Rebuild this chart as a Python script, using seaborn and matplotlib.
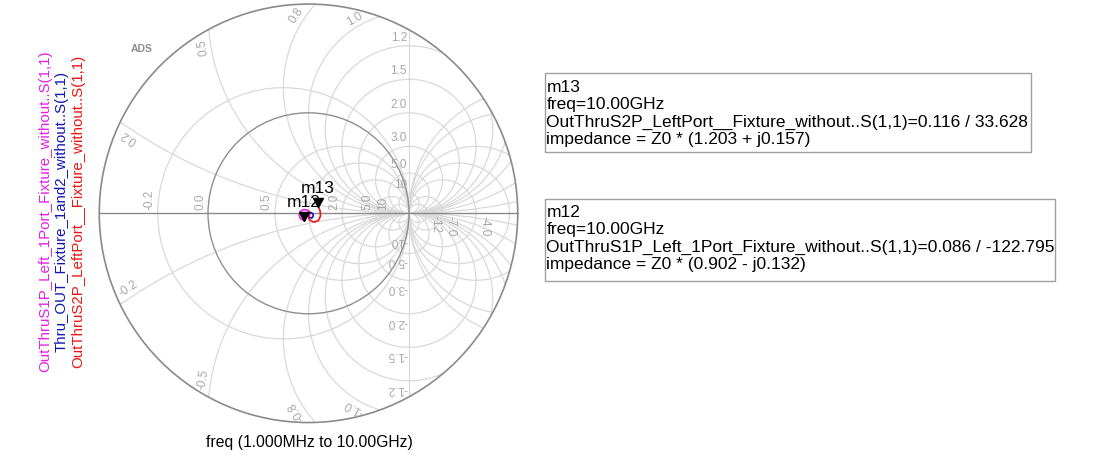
import numpy as np
import pandas as pd
import matplotlib
matplotlib.use("Agg")
import matplotlib.pyplot as plt
import seaborn as sns
from matplotlib.patches import Circle, Rectangle
from matplotlib.path import Path

# ---- grid definition (ADS compressed smith chart) ----
r_left = [-0.2, 0.0, 0.5, 1.0, 2.0, 5.0, 10.0]
r_left_labels = ["-0.2", "0.0", "0.5", "", "2.0", "5.0", "10"]
r_right = [-1.8, -2.0, -2.5, -3.0, -4.0, -7.0, -12.0]
r_right_labels = ["", "", "", "", "-4.0", "-7.0", "-12"]
x_vals = [0.2, 0.5, 0.8, 1.0, 1.2, 1.5, 2.0, 3.0, 5.0, 10.0]
x_labels = ["0.2", "0.5", "0.8", "1.0", "1.2", "1.5", "2.0", "3.0", "5.0", "10"]
R_OUT = 2.082

magenta_re = [0.010, 0.013, -0.010, -0.045, -0.080, -0.093, -0.080, -0.047]
magenta_im = [-0.032, 0.008, 0.031, 0.038, 0.021, -0.017, -0.055, -0.072]
blue_re = [0.001, 0.020, 0.043, 0.048, 0.033, 0.007, -0.007, 0.003]
blue_im = [0.000, 0.009, -0.003, -0.025, -0.047, -0.045, -0.023, -0.003]
red_re = [0.005, -0.005, 0.015, 0.055, 0.100, 0.119, 0.116, 0.097]
red_im = [0.008, -0.027, -0.071, -0.088, -0.071, -0.027, 0.023, 0.064]
trace_names = ["OutThruS1P_Left_1Port_Fixture_without..S(1,1)",
               "Thru_OUT_Fixture_1and2_without..S(1,1)",
               "OutThruS2P_LeftPort__Fixture_without..S(1,1)"]
trace_colors = ["#e61ee6", "#1414b4", "#f01414"]

# markers
marker_names = ["m13", "m12"]
marker_mag = [0.116, 0.086]
marker_deg = [33.628, -122.795]
marker_text = [
    ["m13", "freq=10.00GHz",
     "OutThruS2P_LeftPort__Fixture_without..S(1,1)=0.116 / 33.628",
     "impedance = Z0 * (1.203 + j0.157)"],
    ["m12", "freq=10.00GHz",
     "OutThruS1P_Left_1Port_Fixture_without..S(1,1)=0.086 / -122.795",
     "impedance = Z0 * (0.902 - j0.132)"],
]

W, H = 1107, 462
sns.set_style("white")
plt.rcParams['font.family'] = ['Liberation Sans', 'DejaVu Sans']

fig = plt.figure(figsize=(W / 100, H / 100), dpi=100)
unit = 100.5
cx, cy = 308.5, 213.3
lim = 2.1
ax = fig.add_axes([(cx - lim * unit) / W, (H - cy - lim * unit) / H,
                   2 * lim * unit / W, 2 * lim * unit / H])
ax.set_xlim(-lim, lim)
ax.set_ylim(-lim, lim)
ax.axis('off')

clip = Circle((0, 0), R_OUT, transform=ax.transData)
grid_c = '#d9d9d9'
lab_c = '#a8a8a8'
lab_fs = 8.5


def px2pt(v):
    return v * 0.72


# resistance circles
for r in r_left + r_right:
    c = r / (1 + r)
    rho = 1 / abs(1 + r)
    col, lw = (grid_c, 0.9) if r != 0 else ('#8f8f8f', 1.0)
    p = Circle((c, 0), rho, fill=False, edgecolor=col, lw=lw, zorder=2 if r == 0 else 1)
    ax.add_patch(p)
    p.set_clip_path(clip)

# reactance circles
for xv in x_vals:
    for s in (1, -1):
        p = Circle((1, s / xv), 1 / xv, fill=False, edgecolor=grid_c, lw=0.9, zorder=1)
        ax.add_patch(p)
        p.set_clip_path(clip)

yv = np.sqrt(R_OUT ** 2 - 1)
ax.plot([1, 1], [-yv, yv], color=grid_c, lw=0.9, zorder=1)
ax.plot([-R_OUT, R_OUT], [0, 0], color='#8a8a8a', lw=1.0, zorder=2)
ax.add_patch(Circle((0, 0), R_OUT, fill=False, edgecolor='#8a8a8a', lw=1.2, zorder=3))

# grid labels on real axis
for r, t in zip(r_left, r_left_labels):
    if t:
        ax.annotate(t, ((r - 1) / (r + 1), 0), xytext=(px2pt(-2), px2pt(3)),
                    textcoords='offset points', rotation=90, ha='right', va='bottom',
                    fontsize=lab_fs, color=lab_c)
for r, t in zip(r_right, r_right_labels):
    if t:
        ax.annotate(t, ((r - 1) / (r + 1), 0), xytext=(px2pt(2), px2pt(-3)),
                    textcoords='offset points', rotation=270, ha='left', va='top',
                    fontsize=lab_fs, color=lab_c)

# reactance labels
rho_lab = 1.93
for xv, t in zip(x_vals, x_labels):
    k = 1 / xv
    if 1 + (2 * k) ** 2 <= R_OUT ** 2:
        ax.annotate(t, (1, 2 * k), xytext=(px2pt(-2), px2pt(2)), textcoords='offset points',
                    ha='right', va='bottom', fontsize=lab_fs, color=lab_c)
        ax.annotate("-" + t, (1, -2 * k), xytext=(px2pt(-2), px2pt(-2)), textcoords='offset points',
                    rotation=180, ha='right', va='top', fontsize=lab_fs, color=lab_c)
    else:
        q = (rho_lab ** 2 + 1) / 2
        a, b, c = 1 + k ** 2, -2 * k * q, q ** 2 - rho_lab ** 2
        y = (-b + np.sqrt(b * b - 4 * a * c)) / (2 * a)
        x = q - k * y
        vx, vy = x - 1, y - k
        n = np.hypot(vx, vy)
        px_, py_ = x + 0.08 * vx / n, y + 0.08 * vy / n
        ang = np.degrees(np.arctan2(-vx, vy))
        ax.text(px_, py_, t, rotation=ang, ha='center', va='center',
                rotation_mode='anchor', fontsize=lab_fs, color=lab_c)
        ax.text(px_, -py_, "-" + t, rotation=180 - ang, ha='center', va='center',
                rotation_mode='anchor', fontsize=lab_fs, color=lab_c)

# traces
frames = []
for name, re, im in zip(trace_names, [magenta_re, blue_re, red_re],
                        [magenta_im, blue_im, red_im]):
    frames.append(pd.DataFrame({'re': re, 'im': im, 'trace': name}))
df = pd.concat(frames, ignore_index=True)
sns.lineplot(data=df, x='re', y='im', hue='trace', palette=dict(zip(trace_names, trace_colors)),
             sort=False, estimator=None, legend=False, lw=1.2, ax=ax, zorder=5)
ax.set_xlim(-lim, lim)
ax.set_ylim(-lim, lim)
ax.axis('off')

# marker triangles, tip on the point
tri = Path([(0, 0), (-0.55, 1), (0.55, 1), (0, 0)])
for name, mag, deg in zip(marker_names, marker_mag, marker_deg):
    g = mag * np.exp(1j * np.radians(deg))
    ax.plot([g.real], [g.imag], marker=tri, markersize=13, color='black',
            linestyle='none', zorder=6)
    ax.annotate(name, (g.real, g.imag), xytext=(0, px2pt(13.5)), textcoords='offset points',
                ha='center', va='baseline', fontsize=12.5, color='black', zorder=7)

# side legend (rotated)
for xpos, name, col in zip([45, 62, 78], trace_names, trace_colors):
    fig.text(xpos / W, 1 - 211.5 / H, name, rotation=90, ha='center', va='center',
             fontsize=10.8, color=col)

fig.text(142 / W, 1 - 49 / H, "ADS", ha='center', va='center', fontsize=7.5,
         fontweight='bold', color='#8c8c8c')
fig.text(309 / W, 1 - 443 / H, "freq (1.000MHz to 10.00GHz)", ha='center', va='center',
         fontsize=11.3, color='black')

# marker readout boxes
box_px = [(545, 73, 1031, 152), (545, 199, 1055, 281)]
base_px = [[91.7, 109.3, 126.7, 144.0], [216.7, 234.3, 252.3, 269.0]]
for (x0, y0, x1, y1), lines, bases in zip(box_px, marker_text, base_px):
    fig.add_artist(Rectangle((x0 / W, 1 - y1 / H), (x1 - x0) / W, (y1 - y0) / H,
                             transform=fig.transFigure, fill=False,
                             edgecolor='#a0a0a0', lw=1.0))
    for line, b in zip(lines, bases):
        fig.text((x0 + 1.5) / W, 1 - b / H, line, ha='left', va='baseline',
                 fontsize=12.5, color='black')

fig.savefig('out.png', dpi=100)
